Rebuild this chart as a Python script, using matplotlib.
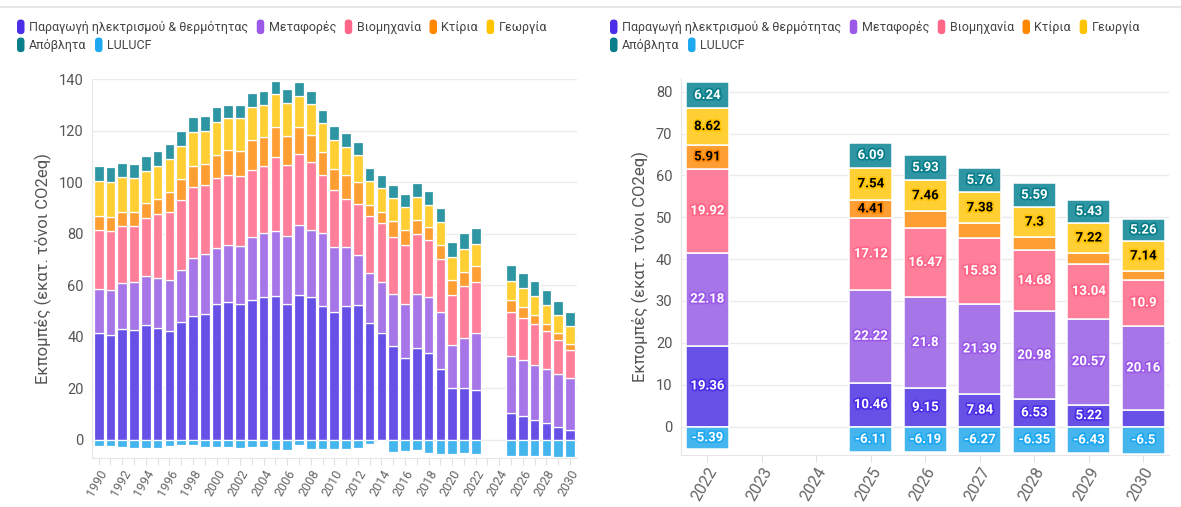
import numpy as np
import matplotlib.pyplot as plt
import matplotlib.patheffects as pe
from matplotlib.patches import Patch, FancyBboxPatch
from matplotlib.legend_handler import HandlerPatch
from matplotlib.lines import Line2D

plt.rcParams['font.family'] = ['Roboto', 'DejaVu Sans']

# Emissions per sector (Mt CO2eq); 2023-2024 have no data
years = list(range(1990, 2023)) + list(range(2025, 2031))
energy = [41.7, 40.6, 43.1, 42.8, 44.5, 43.5, 42.3, 45.7, 48.3, 48.9,
          52.9, 53.4, 52.8, 54.3, 55.5, 55.9, 52.8, 56.4, 55.4, 52.1,
          49.7, 51.9, 52.5, 45.4, 41.7, 36.5, 31.8, 35.7, 33.9, 27.7,
          20.1, 20.3, 19.36,
          10.46, 9.15, 7.84, 6.53, 5.22, 3.91]
transport = [17.0, 17.5, 18.0, 18.5, 19.3, 19.2, 19.8, 20.3, 22.2, 23.2,
             21.5, 22.4, 22.6, 24.4, 24.7, 25.1, 26.4, 26.9, 26.1, 28.4,
             25.3, 23.0, 19.4, 19.3, 19.6, 20.3, 21.0, 20.8, 21.6, 22.0,
             16.9, 19.3, 22.18,
             22.22, 21.8, 21.39, 20.98, 20.57, 20.16]
industry = [22.8, 22.9, 21.8, 21.9, 22.4, 25.0, 26.5, 27.2, 27.8, 26.9,
            27.4, 27.1, 26.9, 26.1, 26.2, 28.8, 27.4, 27.6, 26.5, 22.5,
            22.0, 18.5, 19.8, 22.2, 22.8, 22.1, 23.0, 23.3, 22.3, 20.7,
            19.2, 20.2, 19.92,
            17.12, 16.47, 15.83, 14.68, 13.04, 10.9]
buildings = [5.6, 5.7, 5.5, 5.4, 5.7, 6.0, 7.7, 8.0, 8.2, 8.0,
             8.8, 9.5, 9.9, 11.6, 11.2, 11.8, 11.5, 10.5, 10.3, 8.9,
             8.3, 9.5, 8.6, 4.4, 4.5, 6.1, 5.7, 5.6, 4.7, 5.4,
             5.8, 5.4, 5.91,
             4.41, 4.0, 3.5, 3.0, 2.6, 2.2]
agriculture = [13.6, 13.6, 13.6, 13.0, 12.4, 12.5, 12.9, 12.8, 13.2, 12.9,
               12.7, 12.5, 12.7, 13.0, 12.6, 12.6, 12.6, 12.1, 12.0, 11.0,
               11.1, 11.0, 10.2, 9.2, 9.1, 8.8, 8.8, 8.8, 8.7, 8.7,
               9.2, 8.9, 8.62,
               7.54, 7.46, 7.38, 7.3, 7.22, 7.14]
waste = [5.8, 5.8, 5.4, 5.5, 5.9, 6.0, 5.8, 5.9, 5.8, 6.0,
         5.8, 5.3, 5.3, 5.2, 5.3, 5.1, 5.4, 5.5, 5.3, 5.2,
         5.5, 5.1, 5.2, 5.2, 5.0, 5.0, 5.2, 5.4, 5.6, 5.7,
         5.8, 6.1, 6.24,
         6.09, 5.93, 5.76, 5.59, 5.43, 5.26]
lulucf = [-2.3, -2.5, -2.6, -3.2, -3.0, -3.2, -2.3, -2.0, -2.0, -2.7,
          -2.6, -2.6, -3.0, -2.8, -2.8, -3.8, -3.8, -1.8, -3.4, -3.4,
          -3.4, -3.4, -3.3, -1.5, -0.3, -4.5, -4.3, -4.0, -5.0, -5.4,
          -5.4, -5.0, -5.39,
          -6.11, -6.19, -6.27, -6.35, -6.43, -6.5]

names = ['Παραγωγή ηλεκτρισμού & θερμότητας', 'Μεταφορές', 'Βιομηχανία',
         'Κτίρια', 'Γεωργία', 'Απόβλητα', 'LULUCF']
legend_colors = ['#4a2ee8', '#9b59e8', '#ff6688', '#ff8800', '#ffc300', '#087e8b', '#1ea8f0']
bar_colors = ['#6650e6', '#a675e8', '#ff7e9a', '#ff9e33', '#ffcf33', '#2e96a2', '#45b5ee']
label_colors = ['white', 'white', 'white', 'black', 'black', 'white', 'white']

positive = [energy, transport, industry, buildings, agriculture, waste]
right_years = list(range(2022, 2031))

W, H = 1181, 507
fig = plt.figure(figsize=(W / 100, H / 100), dpi=100)


def fx(px):
    return px / W


def fy(py):
    return 1 - py / H


ax1 = fig.add_axes([fx(92), fy(458), fx(577 - 92), fy(79.3) - fy(458)])
ax2 = fig.add_axes([fx(680.7), fy(455), fx(1169 - 680.7), fy(78.3) - fy(455)])

yrs = np.array(years, dtype=float)

# left: full history + projection
bottom = np.zeros(len(years))
for vals, col in zip(positive, bar_colors):
    v = np.array(vals)
    ax1.bar(yrs, v, bottom=bottom, width=0.82, color=col, edgecolor='white', linewidth=0.9)
    bottom += v
ax1.bar(yrs, lulucf, width=0.82, color=bar_colors[6], edgecolor='white', linewidth=0.9)

ax1.set_xlim(1989.43, 2030.6)
ax1.set_ylim(-7, 140)
ax1.set_yticks(range(0, 141, 20))
ax1.set_xticks(range(1990, 2031))
ax1.set_xticklabels([str(y) if y % 2 == 0 else '' for y in range(1990, 2031)],
                    rotation=60, ha='right', rotation_mode='anchor')
ax1.set_ylabel('Εκπομπές (εκατ. τόνοι CO2eq)', fontsize=12, color='#555555', labelpad=5)

# right: 2022 and projections with labels
idx = [years.index(y) for y in years if y >= 2022]
xpos = np.array([right_years.index(years[i]) for i in idx], dtype=float)
bottom = np.zeros(len(idx))
for k, (vals, col) in enumerate(zip(positive, bar_colors)):
    v = np.array([vals[i] for i in idx])
    ax2.bar(xpos, v, bottom=bottom, width=0.79, color=col, edgecolor='white', linewidth=1.1)
    for x, b, h in zip(xpos, bottom, v):
        if abs(h) >= 4.3:
            ax2.text(x, b + h / 2, f'{h:g}', ha='center', va='center', fontsize=9.5,
                     fontweight='bold', color=label_colors[k],
                     path_effects=[pe.withStroke(linewidth=2.5, foreground=legend_colors[k])])
    bottom += v
lv = np.array([lulucf[i] for i in idx])
ax2.bar(xpos, lv, width=0.79, color=bar_colors[6], edgecolor='white', linewidth=1.1)
for x, h in zip(xpos, lv):
    ax2.text(x, h / 2, f'{h:g}', ha='center', va='center', fontsize=9.5,
             fontweight='bold', color='white',
             path_effects=[pe.withStroke(linewidth=2.5, foreground=legend_colors[6])])

ax2.set_xlim(-0.49, 8.47)
ax2.set_ylim(-6.8, 83.2)
ax2.set_yticks(range(0, 81, 10))
ax2.set_xticks(range(len(right_years)))
ax2.set_xticklabels([str(y) for y in right_years], rotation=60, ha='right',
                    rotation_mode='anchor', fontsize=11.5)
ax2.set_ylabel('Εκπομπές (εκατ. τόνοι CO2eq)', fontsize=12, color='#555555', labelpad=5)

for ax in (ax1, ax2):
    ax.set_axisbelow(True)
    ax.yaxis.grid(True, color='#ebebeb', linewidth=1)
    for s in ('top', 'right'):
        ax.spines[s].set_visible(False)
    for s in ('left', 'bottom'):
        ax.spines[s].set_color('#e6e6e6')
    ax.tick_params(axis='y', length=0, labelsize=10.5, labelcolor='#555555', pad=6)
    ax.tick_params(axis='x', length=5, color='#e0e0e0', labelcolor='#666666', pad=2)
ax1.tick_params(axis='x', labelsize=9)


class RoundHandler(HandlerPatch):
    def create_artists(self, legend, orig_handle, xdescent, ydescent, width, height, fontsize, trans):
        p = FancyBboxPatch((-xdescent, -ydescent - 1.5), width, height + 3,
                           boxstyle='round,pad=0,rounding_size=2.5',
                           facecolor=orig_handle.get_facecolor(), edgecolor='none', transform=trans)
        return [p]


handles = [Patch(facecolor=c) for c in legend_colors]
for x0 in (17, 610):
    for row, (a, b) in enumerate([(0, 5), (5, 7)]):
        fig.legend(handles[a:b], names[a:b], loc='upper left',
                   bbox_to_anchor=(fx(x0), fy(21 + row * 18)), ncol=b - a,
                   frameon=False, fontsize=9, handlelength=0.6, handleheight=0.9,
                   handletextpad=0.35, columnspacing=0.7, borderaxespad=0, borderpad=0,
                   labelcolor='#444444', handler_map={Patch: RoundHandler()})

fig.add_artist(Line2D([0, 1], [fy(7), fy(7)], color='#e6e6e6', linewidth=1.5))

fig.savefig('out.png', dpi=100)
